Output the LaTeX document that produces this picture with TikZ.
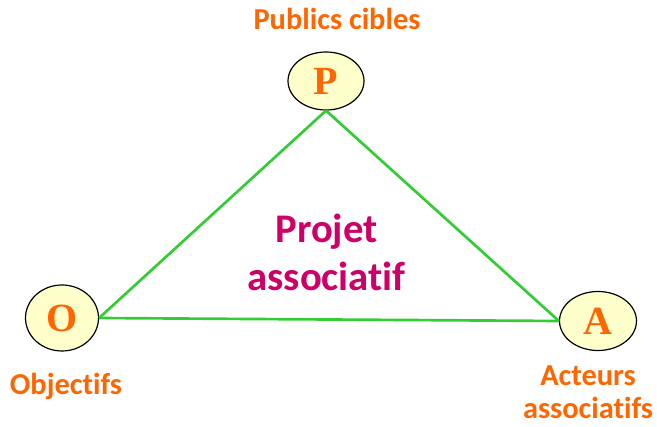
\documentclass[tikz,border=0pt]{standalone}
\usepackage{fontspec}
\setmainfont{Carlito}[Ligatures=NoCommon]
\newfontfamily\lettrefont{Liberation Serif}
\usepackage{tikz}
\usetikzlibrary{shapes.geometric}

\definecolor{orangeP}{RGB}{255,102,0}
\definecolor{vertL}{RGB}{51,204,51}
\definecolor{jauneE}{RGB}{255,255,204}
\definecolor{magentaP}{RGB}{204,0,102}

\tikzset{
  pole/.style={ellipse,draw=black,line width=0.9pt,fill=jauneE,inner sep=0pt,
    text=orangeP,font=\lettrefont\bfseries\fontsize{30}{30}\selectfont},
  lien/.style={draw=vertL,line width=2pt},
  etiq/.style={text=orangeP,inner sep=0.75pt,font=\bfseries\fontsize{22.8}{24.75}\selectfont}
}

\begin{document}
\begin{tikzpicture}[x=0.75pt,y=0.75pt,yscale=-1,xscale=1]
\useasboundingbox (0,0) rectangle (657,427);

%Shape: Ellipse
\draw (326,81) node (P) [pole,minimum width=57pt,minimum height=43.5pt] {P};
%Shape: Ellipse
\draw (62,318) node (O) [pole,minimum width=54.75pt,minimum height=49.5pt] {O};
%Shape: Ellipse
\draw (598,321) node (A) [pole,minimum width=57.75pt,minimum height=44.25pt] {A};

%Straight Lines
\draw [lien] (P.south) -- (O.east) ;
%Straight Lines
\draw [lien] (P.south) -- (A.west) ;
%Straight Lines
\draw [lien] (O.east) -- (A.west) ;

% Text Node
\draw (337,30) node (publics) [etiq,anchor=base] {Publics cibles};
% Text Node
\draw (66,395) node (objectifs) [etiq,anchor=base] {Objectifs};
% Text Node
\draw (588,419) node (acteurs) [etiq,anchor=base,align=center] {Acteurs\\associatifs};
% Text Node
\draw (326.5,291) node (projet) [anchor=base,inner sep=0.75pt,align=center,text=magentaP,
  font=\bfseries\fontsize{30.5}{36}\selectfont] {Projet\\associatif};

\end{tikzpicture}
\end{document}
